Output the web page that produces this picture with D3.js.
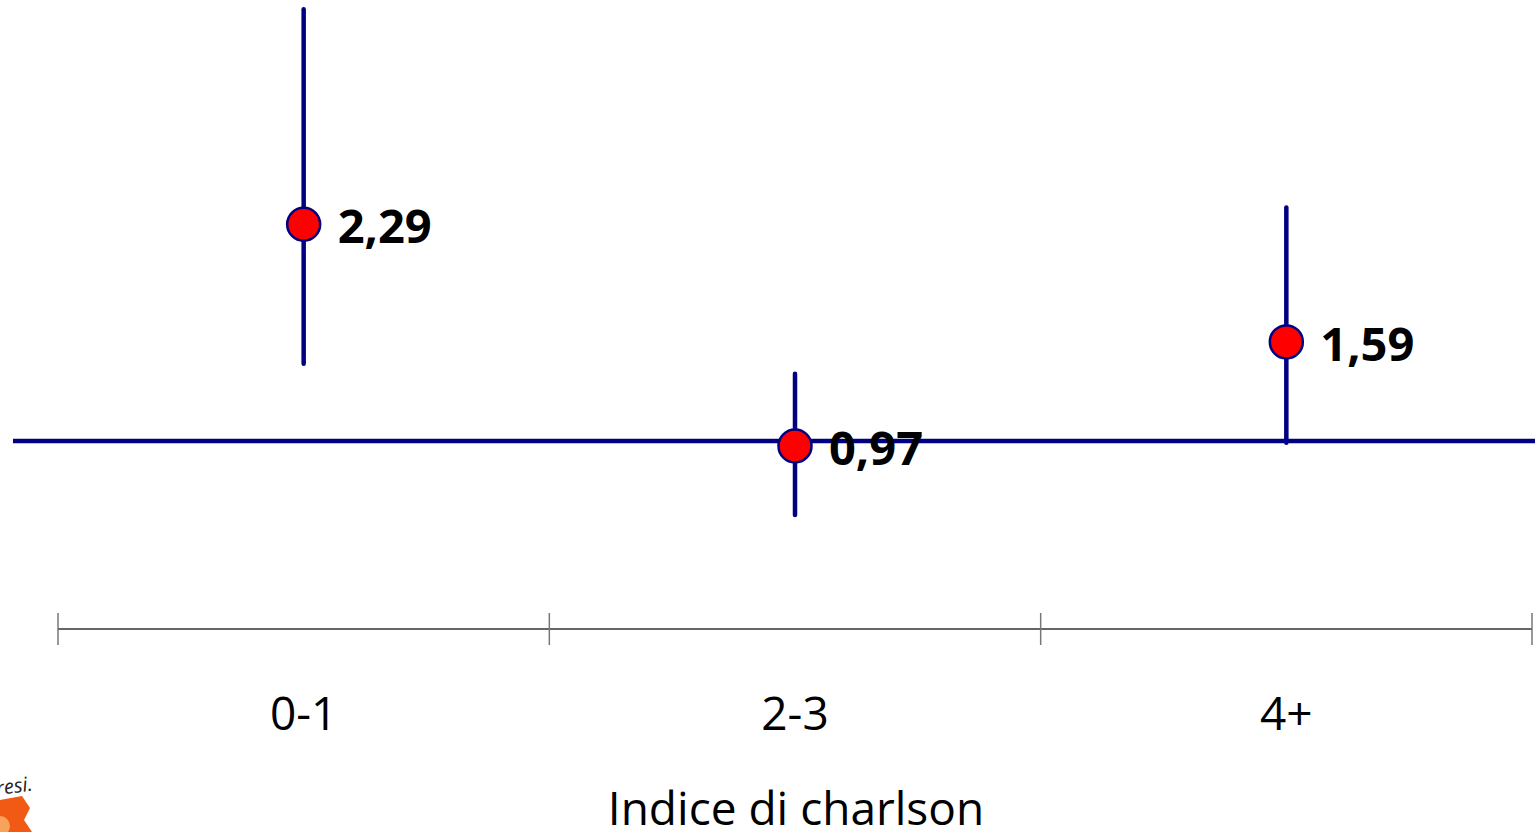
<!DOCTYPE html>
<html lang="it">
<head>
<meta charset="UTF-8">
<title>Indice di charlson</title>
<script src="https://d3js.org/d3.v7.min.js"></script>
<style>
  body { margin: 0; background: #fff; }
  svg { display: block; }
  .val { font-family: "Open Sans", "Noto Sans", sans-serif; font-weight: bold; fill: #000; }
  .tick-lab { font-family: "Open Sans", "Noto Sans", sans-serif; fill: #000; }
</style>
</head>
<body>
<svg width="1535" height="832"></svg>
<script>
// dati
const categories = ["0-1", "2-3", "4+"];
const estimates  = [2.29, 0.97, 1.59];
const lowerCI    = [1.46, 0.56, 0.99];
const upperCI    = [3.57, 1.40, 2.39];
const valueLabels = ["2,29", "0,97", "1,59"];
const refValue = 1;
const axisTitle = "Indice di charlson";

const width = 1535, height = 832;
const svg = d3.select("svg");

const x = d3.scaleBand().domain(categories).range([58, 1532]);
const y = d3.scaleLinear().domain([1, 2]).range([441, 273]);

const navy = "#000080";

// linea di riferimento (valore 1)
svg.append("line")
  .attr("x1", 13).attr("x2", width)
  .attr("y1", y(refValue)).attr("y2", y(refValue))
  .attr("stroke", navy).attr("stroke-width", 4.5);

// intervalli di confidenza
svg.selectAll(".ci")
  .data(categories)
  .enter().append("line")
  .attr("class", "ci")
  .attr("x1", d => x(d) + x.bandwidth() / 2)
  .attr("x2", d => x(d) + x.bandwidth() / 2)
  .attr("y1", (d, i) => y(upperCI[i]))
  .attr("y2", (d, i) => y(lowerCI[i]))
  .attr("stroke", navy).attr("stroke-width", 4.5)
  .attr("stroke-linecap", "round");

// punti
svg.selectAll(".pt")
  .data(categories)
  .enter().append("circle")
  .attr("class", "pt")
  .attr("cx", d => x(d) + x.bandwidth() / 2)
  .attr("cy", (d, i) => y(estimates[i]))
  .attr("r", 16.5)
  .attr("fill", "#ff0000")
  .attr("stroke", navy).attr("stroke-width", 2.5);

svg.selectAll(".val")
  .data(categories)
  .enter().append("text")
  .attr("class", "val")
  .attr("x", d => x(d) + x.bandwidth() / 2 + 34)
  .attr("y", (d, i) => y(estimates[i]) + 19)
  .attr("font-size", 47)
  .text((d, i) => valueLabels[i]);

// asse x
const axisY = 629;
const bounds = [58].concat(categories.map(c => x(c) + x.bandwidth()));
svg.append("line")
  .attr("x1", 58).attr("x2", 1532)
  .attr("y1", axisY).attr("y2", axisY)
  .attr("stroke", "#333").attr("stroke-width", 1.5);
svg.selectAll(".tk")
  .data(bounds)
  .enter().append("line")
  .attr("class", "tk")
  .attr("x1", d => d).attr("x2", d => d)
  .attr("y1", axisY - 16).attr("y2", axisY + 16)
  .attr("stroke", "#777").attr("stroke-width", 1.5);

svg.selectAll(".tick-lab")
  .data(categories)
  .enter().append("text")
  .attr("class", "tick-lab")
  .attr("x", d => x(d) + x.bandwidth() / 2)
  .attr("y", 730)
  .attr("text-anchor", "middle")
  .attr("font-size", 46)
  .text(d => d);

svg.append("text")
  .attr("class", "tick-lab")
  .attr("x", 796)
  .attr("y", 825)
  .attr("text-anchor", "middle")
  .attr("font-size", 46)
  .text(axisTitle);

// logo parziale in basso a sinistra
const logo = svg.append("g");
logo.append("path")
  .attr("d", "M0,800 L22,796 L30,808 L24,820 L32,832 L0,832 Z")
  .attr("fill", "#f05a14");
logo.append("circle").attr("cx", 0).attr("cy", 826).attr("r", 10).attr("fill", "#f7a35c");
logo.append("text")
  .attr("x", -3).attr("y", 795)
  .attr("transform", "rotate(-8,0,795)")
  .attr("font-family", "Open Sans, sans-serif")
  .attr("font-style", "italic")
  .attr("font-size", 20)
  .attr("fill", "#222")
  .text("resi.");
</script>
</body>
</html>
